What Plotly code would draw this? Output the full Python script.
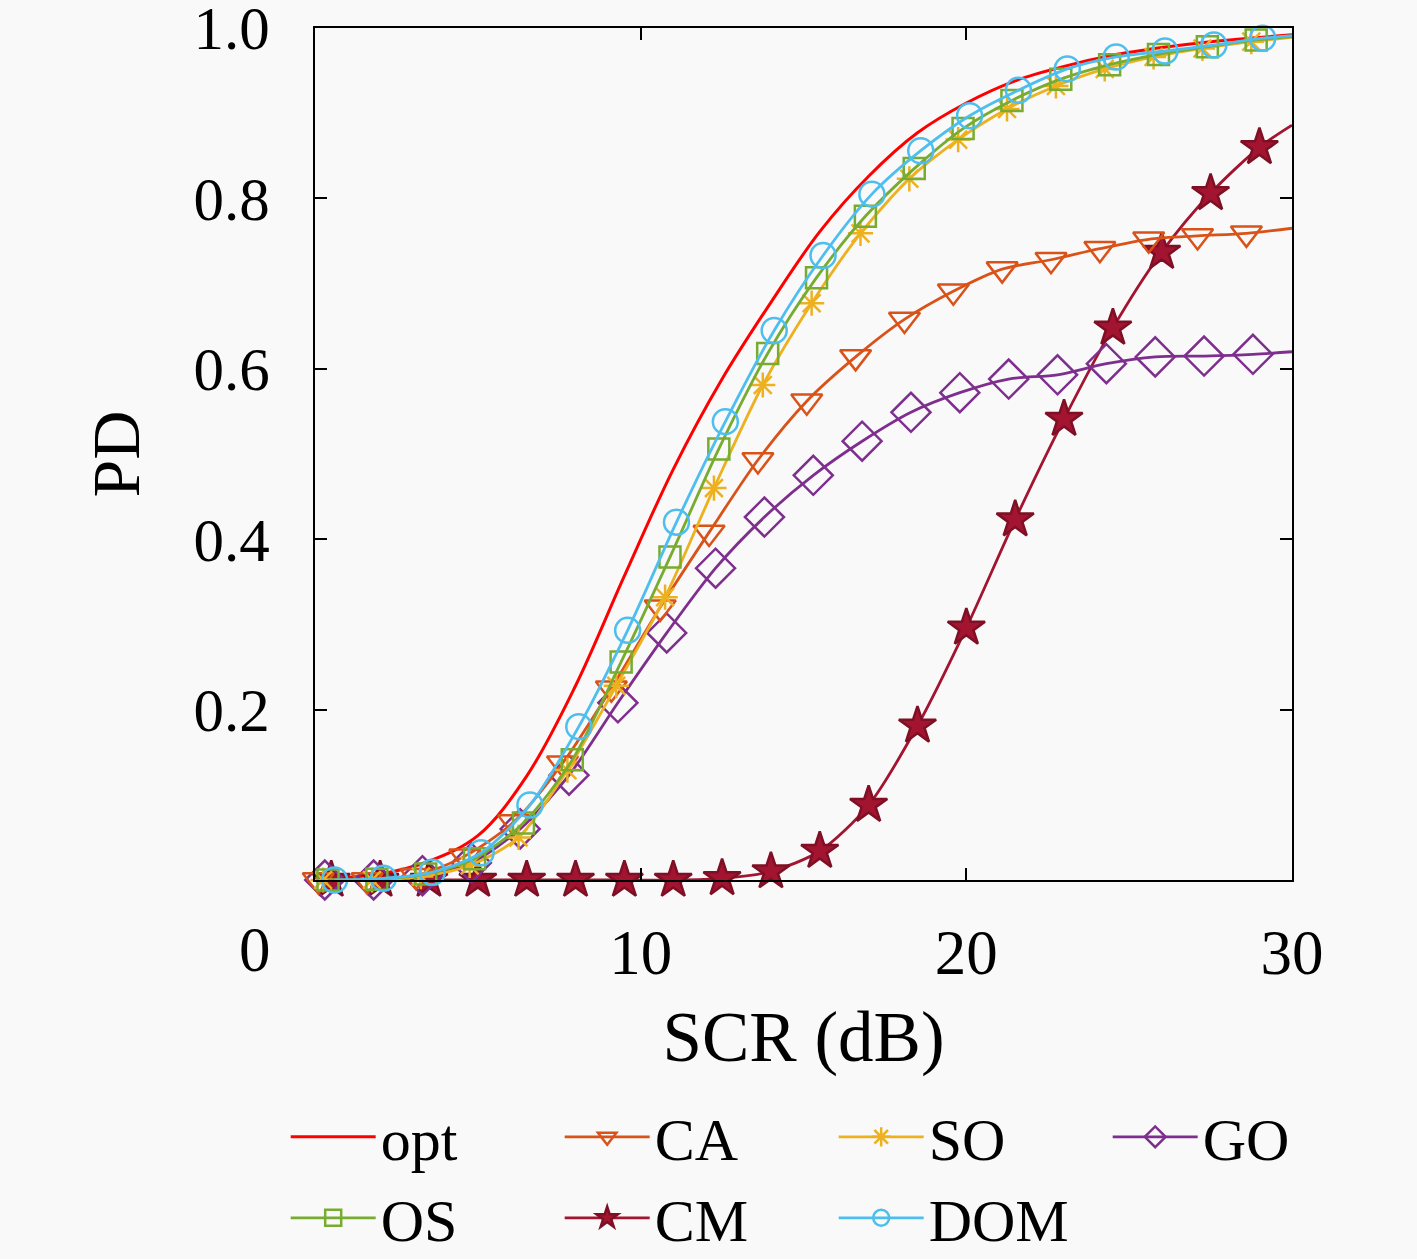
import plotly.graph_objects as go

# detection probability vs SCR
opt_x = [0, 0.5, 2, 3.5, 5, 6.5, 8, 9.5, 11, 12.5, 14, 15.5, 17, 18.5, 20, 21.5, 23, 24.5, 26, 27.5, 29, 30]
opt_y = [0.001, 0.002, 0.007, 0.022, 0.052, 0.122, 0.228, 0.357, 0.482, 0.588, 0.678, 0.761, 0.826, 0.877, 0.912, 0.938, 0.955, 0.968, 0.977, 0.984, 0.989, 0.992]

ca_x = [0.1, 1.6, 3.1, 4.6, 6.1, 7.6, 9.1, 10.6, 12.1, 13.6, 15.1, 16.6, 18.1, 19.6, 21.1, 22.6, 24.1, 25.6, 27.1, 28.6, 30]
ca_y = [0.0, 0.0, 0.005, 0.028, 0.068, 0.137, 0.225, 0.32, 0.408, 0.493, 0.562, 0.614, 0.658, 0.691, 0.717, 0.728, 0.741, 0.752, 0.756, 0.759, 0.765]

so_x = [0.25, 1.75, 3.25, 4.75, 6.25, 7.75, 9.25, 10.75, 12.25, 13.75, 15.25, 16.75, 18.25, 19.75, 21.25, 22.75, 24.25, 25.75, 27.25, 28.75, 30]
so_y = [0.0, 0.0, 0.004, 0.017, 0.05, 0.129, 0.228, 0.332, 0.46, 0.581, 0.677, 0.759, 0.823, 0.869, 0.905, 0.932, 0.952, 0.966, 0.976, 0.984, 0.989]

go_x = [0.3, 1.8, 3.3, 4.8, 6.3, 7.8, 9.3, 10.8, 12.3, 13.8, 15.3, 16.8, 18.3, 19.8, 21.3, 22.8, 24.3, 25.8, 27.3, 28.8, 30]
go_y = [0.0, 0.0, 0.005, 0.02, 0.06, 0.123, 0.208, 0.29, 0.366, 0.426, 0.475, 0.515, 0.549, 0.572, 0.588, 0.593, 0.606, 0.614, 0.615, 0.617, 0.62]

os_x = [0.4, 1.9, 3.4, 4.9, 6.4, 7.9, 9.4, 10.9, 12.4, 13.9, 15.4, 16.9, 18.4, 19.9, 21.4, 22.9, 24.4, 25.9, 27.4, 28.9, 30]
os_y = [0.0, 0.001, 0.007, 0.025, 0.067, 0.141, 0.256, 0.379, 0.506, 0.618, 0.707, 0.779, 0.835, 0.882, 0.915, 0.94, 0.957, 0.969, 0.978, 0.986, 0.99]

cm_x = [0.5, 2, 3.5, 5, 6.5, 8, 9.5, 11, 12.5, 14, 15.5, 17, 18.5, 20, 21.5, 23, 24.5, 26, 27.5, 29, 30]
cm_y = [0.0, 0.0, 0.0, 0.0, 0.0, 0.0, 0.0, 0.0, 0.002, 0.01, 0.034, 0.088, 0.181, 0.296, 0.423, 0.541, 0.648, 0.737, 0.806, 0.86, 0.886]

dom_x = [0.6, 2.1, 3.6, 5.1, 6.6, 8.1, 9.6, 11.1, 12.6, 14.1, 15.6, 17.1, 18.6, 20.1, 21.6, 23.1, 24.6, 26.1, 27.6, 29.1, 30]
dom_y = [0.0, 0.002, 0.009, 0.032, 0.088, 0.18, 0.293, 0.42, 0.538, 0.645, 0.733, 0.805, 0.856, 0.897, 0.927, 0.952, 0.966, 0.973, 0.98, 0.988, 0.991]

serif = "Liberation Serif"
fig = go.Figure()

fig.add_trace(go.Scatter(x=opt_x, y=opt_y, name="opt", mode="lines",
                         line=dict(color="#FF0000", width=3, shape="spline"),
                         legendrank=1))


def add_series(xs, ys, name, color, symbol, size, rank, edge=None):
    # last point only carries the line to the right edge, no marker there
    sizes = [size] * (len(xs) - 1) + [0]
    fig.add_trace(go.Scatter(
        x=xs, y=ys, name=name, mode="lines+markers",
        line=dict(color=color, width=2.8, shape="spline", smoothing=0.8),
        marker=dict(symbol=symbol, size=sizes, color=color, opacity=1,
                    line=dict(color=edge or color, width=2.5)),
        cliponaxis=False, legendrank=rank))


add_series(cm_x, cm_y, "CM", "#A2142F", "star", 28, 6, edge="#7E0F25")
add_series(go_x, go_y, "GO", "#7E2F8E", "diamond-open", 30, 4)
add_series(ca_x, ca_y, "CA", "#D95319", "triangle-down-open", 27, 2)
add_series(so_x, so_y, "SO", "#EDB120", "asterisk-open", 21, 3)
add_series(os_x, os_y, "OS", "#77AC30", "square-open", 21, 5)
add_series(dom_x, dom_y, "DOM", "#4DBEEE", "circle-open", 25, 7)

fig.update_layout(
    width=1417, height=1259,
    margin=dict(l=315, r=125, t=28, b=379, autoexpand=False),
    paper_bgcolor="#F9F9F9", plot_bgcolor="#F9F9F9",
    font=dict(family=serif, size=63, color="black"),
    showlegend=True,
    legend=dict(orientation="h", x=-0.03, y=-0.248, xanchor="left", yanchor="top",
                entrywidth=174, entrywidthmode="pixels", itemwidth=85,
                traceorder="normal", font=dict(family=serif, size=60),
                bgcolor="rgba(0,0,0,0)", tracegroupgap=0),
    annotations=[dict(text="0", x=-0.0614, y=-0.082, xref="paper", yref="paper",
                      xanchor="center", yanchor="middle", showarrow=False,
                      font=dict(family=serif, size=63))],
)

fig.update_xaxes(range=[0, 30], tickvals=[10, 20, 30], ticks="inside", ticklen=12,
                 tickwidth=2, tickcolor="black", mirror="ticks", showline=True,
                 linecolor="black", linewidth=2, showgrid=False, zeroline=False,
                 ticklabelstandoff=16, ticklabeloverflow="allow",
                 title=dict(text="SCR (dB)", standoff=25, font=dict(size=71)))
fig.update_yaxes(range=[0, 1.00001], tickvals=[0.2, 0.4, 0.6, 0.8, 1.0],
                 ticktext=["0.2", "0.4", "0.6", "0.8", "1.0"],
                 tickfont=dict(size=61),
                 ticks="inside", ticklen=12, tickwidth=2, tickcolor="black",
                 mirror="ticks", showline=True, linecolor="black", linewidth=2,
                 showgrid=False, zeroline=False, ticklabelstandoff=31,
                 ticklabeloverflow="allow",
                 title=dict(text="PD", standoff=32, font=dict(size=68)))

# drop the default body margin so the figure fills the window
fig.write_html("out.html", config={"displayModeBar": False},
               post_script="document.body.style.margin='0';")
